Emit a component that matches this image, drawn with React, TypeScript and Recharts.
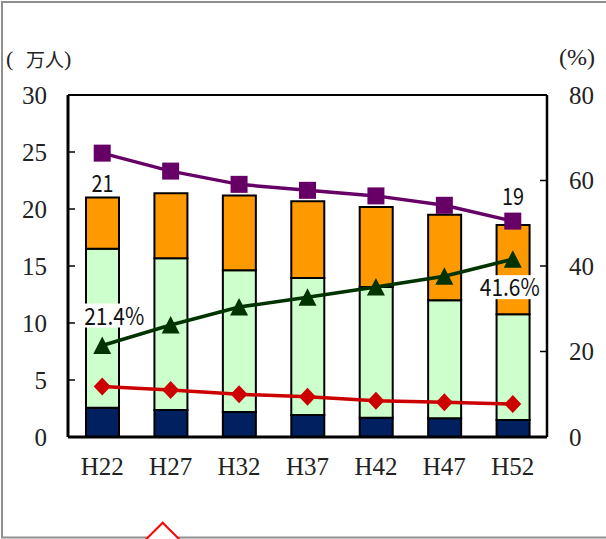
import { Bar, ComposedChart, LabelList, Line, ReferenceLine, XAxis, YAxis } from "recharts";

// 人口（万人）と構成比（%）
const years = ["H22", "H27", "H32", "H37", "H42", "H47", "H52"];
const youngPop = [2.57, 2.36, 2.19, 1.93, 1.69, 1.64, 1.49];
const workingPop = [13.95, 13.31, 12.43, 12.02, 11.46, 10.36, 9.28];
const elderlyPop = [4.48, 5.72, 6.57, 6.74, 7.02, 7.5, 7.82];
const workingRate = [66.4, 62.2, 59.1, 57.7, 56.4, 54.2, 50.5];
const elderlyRate = [21.4, 26.2, 30.4, 32.7, 35.1, 37.6, 41.6];
const youngRate = [11.8, 11.0, 10.0, 9.4, 8.5, 8.1, 7.7];
const leftTicks = [0, 5, 10, 15, 20, 25, 30];
const rightTicks = [0, 20, 40, 60, 80];

const data = years.map((year, i) => ({
  year,
  young: youngPop[i],
  working: workingPop[i],
  elderly: elderlyPop[i],
  total: youngPop[i] + workingPop[i] + elderlyPop[i],
  youngRate: youngRate[i],
  workingRate: workingRate[i],
  elderlyRate: elderlyRate[i],
}));

const PLOT_LEFT = 68;
const PLOT_RIGHT = 547;
const LAST = years.length - 1;

const serif = { fontFamily: "'Liberation Serif', 'DejaVu Serif', serif", fontSize: 25, fill: "#222" };
const gothic = "'Liberation Sans Narrow', 'Noto Sans CJK JP', sans-serif";

const LeftTick = ({ y, payload }: any) => (
  <g>
    <line x1={PLOT_LEFT} x2={PLOT_LEFT + 7} y1={y} y2={y} stroke="#000" strokeWidth={1.5} />
    <text x={47} y={y} textAnchor="end" dominantBaseline="central" style={serif}>
      {payload.value}
    </text>
  </g>
);

const RightTick = ({ y, payload }: any) => (
  <g>
    <line x1={PLOT_RIGHT - 7} x2={PLOT_RIGHT} y1={y} y2={y} stroke="#000" strokeWidth={1.5} />
    <text x={569} y={y} textAnchor="start" dominantBaseline="central" style={serif}>
      {payload.value}
    </text>
  </g>
);

const YearTick = ({ x, payload }: any) => (
  <text x={x} y={475} textAnchor="middle" style={serif}>
    {payload.value}
  </text>
);

const SquareDot = ({ cx, cy, index }: any) => (
  <rect key={`s${index}`} x={cx - 8.5} y={cy - 8.5} width={17} height={17} fill="#660066" />
);
const TriangleDot = ({ cx, cy, index }: any) => (
  <polygon key={`t${index}`} points={`${cx},${cy - 9} ${cx - 9},${cy + 8.5} ${cx + 9},${cy + 8.5}`} fill="#003300" />
);
const DiamondDot = ({ cx, cy, index }: any) => (
  <polygon key={`d${index}`} points={`${cx},${cy - 9} ${cx + 8.5},${cy} ${cx},${cy + 9} ${cx - 8.5},${cy}`} fill="#CC0000" />
);

// only the first and last totals carry a label; the last one sits above the purple marker
const TotalLabel = ({ x, y, width, value, index }: any) => {
  if (index !== 0 && index !== LAST) return null;
  return (
    <text
      x={x + width / 2}
      y={index === 0 ? y - 6 : y - 20}
      textAnchor="middle"
      fontFamily={gothic}
      fontSize={24}
      fill="#111"
      textLength={22}
      lengthAdjust="spacingAndGlyphs"
    >
      {Math.round(value)}
    </text>
  );
};

const RateLabel = ({ x, y, value, index }: any) => {
  if (index !== 0 && index !== LAST) return null;
  const cx = index === 0 ? x + 12 : x - 3;
  const cy = index === 0 ? y - 30 : y + 28;
  return (
    <g>
      <rect x={cx - 32} y={cy - 12} width={64} height={24} fill="#fff" />
      <text
        x={cx}
        y={cy + 9}
        textAnchor="middle"
        fontFamily={gothic}
        fontSize={24}
        fill="#111"
        textLength={60}
        lengthAdjust="spacingAndGlyphs"
      >
        {`${value.toFixed(1)}%`}
      </text>
    </g>
  );
};

export default function App() {
  return (
    <div style={{ position: "relative", width: 606, height: 539, overflow: "hidden", background: "#fff" }}>
      <style>{"body{margin:0}"}</style>
      <ComposedChart width={606} height={539} data={data} margin={{ top: 95, right: 0, bottom: 62, left: 0 }}>
        <XAxis dataKey="year" height={40} tickLine={false} axisLine={{ stroke: "#000", strokeWidth: 3 }} tick={<YearTick />} />
        <YAxis
          yAxisId="left"
          width={68}
          domain={[0, 30]}
          ticks={leftTicks}
          tickLine={false}
          axisLine={{ stroke: "#000", strokeWidth: 3 }}
          tick={<LeftTick />}
        />
        <YAxis
          yAxisId="right"
          orientation="right"
          width={59}
          domain={[0, 80]}
          ticks={rightTicks}
          tickLine={false}
          axisLine={{ stroke: "#000", strokeWidth: 2.5 }}
          tick={<RightTick />}
        />
        <ReferenceLine yAxisId="left" y={30} stroke="#000" strokeWidth={2} />
        <Bar yAxisId="left" dataKey="young" stackId="pop" barSize={33} fill="#002060" stroke="#000" strokeWidth={2} isAnimationActive={false} />
        <Bar yAxisId="left" dataKey="working" stackId="pop" barSize={33} fill="#CCFFCC" stroke="#000" strokeWidth={2} isAnimationActive={false} />
        <Bar yAxisId="left" dataKey="elderly" stackId="pop" barSize={33} fill="#FF9900" stroke="#000" strokeWidth={2} isAnimationActive={false}>
          <LabelList dataKey="total" content={<TotalLabel />} />
        </Bar>
        <Line yAxisId="right" dataKey="youngRate" stroke="#CC0000" strokeWidth={3.5} dot={DiamondDot} isAnimationActive={false} />
        <Line yAxisId="right" dataKey="elderlyRate" stroke="#003300" strokeWidth={3.5} dot={TriangleDot} isAnimationActive={false}>
          <LabelList dataKey="elderlyRate" content={<RateLabel />} />
        </Line>
        <Line yAxisId="right" dataKey="workingRate" stroke="#660066" strokeWidth={3.5} dot={SquareDot} isAnimationActive={false} />
      </ComposedChart>
      <svg width={606} height={539} style={{ position: "absolute", left: 0, top: 0, pointerEvents: "none" }}>
        <rect x={2} y={2} width={700} height={535.5} fill="none" stroke="#8f8f8f" strokeWidth={2} />
        <polygon points="162.7,522.7 145,540.4 180.4,540.4" fill="#fff" stroke="#ff0000" strokeWidth={2} />
        <text y={58} dominantBaseline="central" fill="#222">
          <tspan x={6} fontFamily="'Liberation Serif', serif" fontSize={22}>(</tspan>
          <tspan x={26} fontFamily="'Noto Sans CJK JP', sans-serif" fontSize={19}>万人</tspan>
          <tspan x={64} fontFamily="'Liberation Serif', serif" fontSize={22}>)</tspan>
        </text>
        <text x={559} y={57} dominantBaseline="central" fontFamily="'Liberation Serif', serif" fontSize={24} fill="#222">
          (%)
        </text>
      </svg>
    </div>
  );
}
